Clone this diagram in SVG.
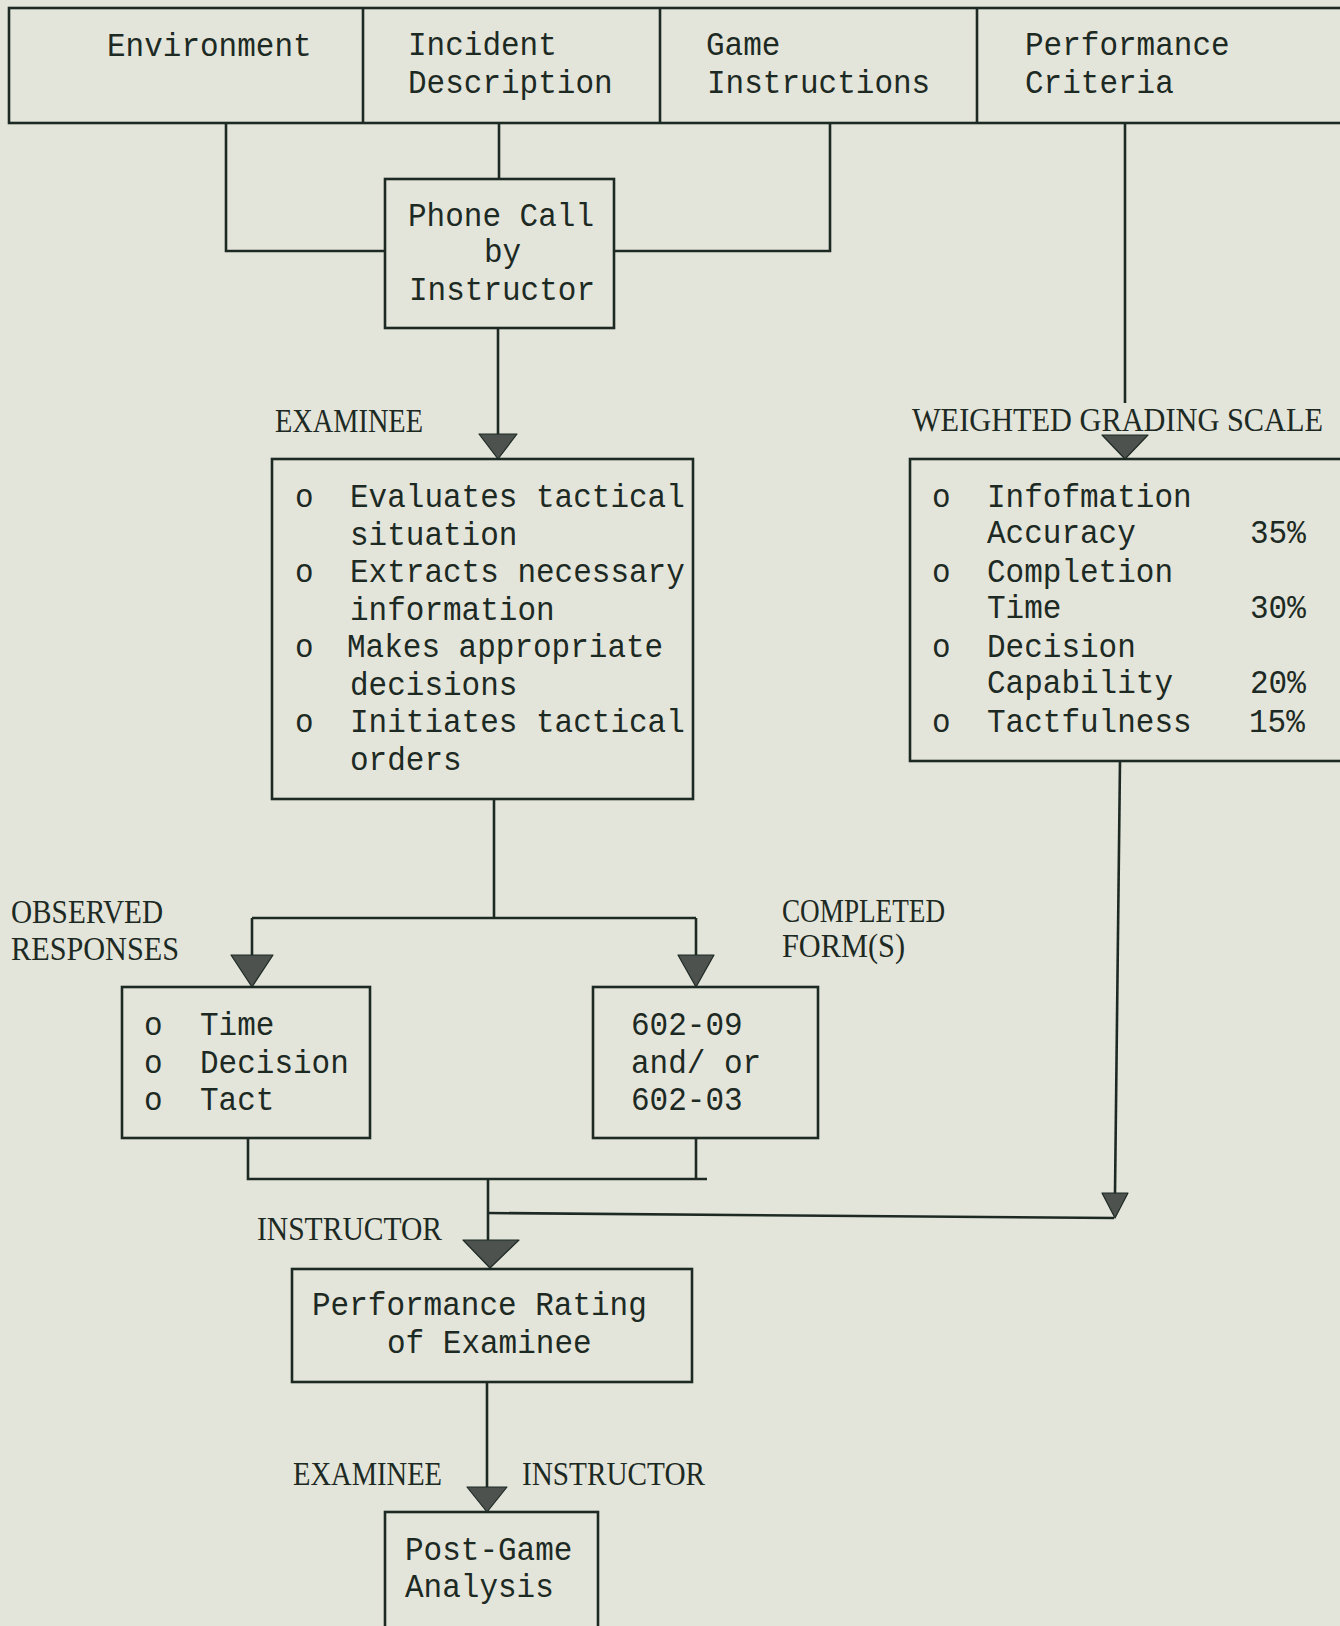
<svg xmlns="http://www.w3.org/2000/svg" width="1340" height="1626" viewBox="0 0 1340 1626">
<style>
.bg{fill:#e4e5da}
.box{fill:none;stroke:#1d2a24;stroke-width:2.6}
.ln{fill:none;stroke:#1d2a24;stroke-width:2.6}
.ar{fill:#4d524e;stroke:#1d2a24;stroke-width:1.2;stroke-linejoin:round}
.m{font-family:"Liberation Mono","Courier New",monospace;font-size:33px;fill:#1d2a24}
.l{font-family:"Liberation Serif","Times New Roman",serif;font-size:33px;fill:#1d2a24}
</style>
<rect class="bg" x="0" y="0" width="1340" height="1626"/>

<g id="top-boxes">
  <rect class="box" x="9" y="8" width="1345" height="115"/>
  <line class="ln" x1="363" y1="8" x2="363" y2="123"/>
  <line class="ln" x1="660" y1="8" x2="660" y2="123"/>
  <line class="ln" x1="977" y1="8" x2="977" y2="123"/>
</g>
<g id="environment">
  <text class="m" x="107" y="56" textLength="204.6" lengthAdjust="spacingAndGlyphs">Environment</text>
</g>
<g id="incident-description">
  <text class="m" x="408" y="55" textLength="148.8" lengthAdjust="spacingAndGlyphs">Incident</text>
  <text class="m" x="408" y="93" textLength="204.6" lengthAdjust="spacingAndGlyphs">Description</text>
</g>
<g id="game-instructions">
  <text class="m" x="706" y="55" textLength="74.4" lengthAdjust="spacingAndGlyphs">Game</text>
  <text class="m" x="707" y="93" textLength="223.2" lengthAdjust="spacingAndGlyphs">Instructions</text>
</g>
<g id="performance-criteria">
  <text class="m" x="1025" y="55" textLength="204.6" lengthAdjust="spacingAndGlyphs">Performance</text>
  <text class="m" x="1025" y="93" textLength="148.8" lengthAdjust="spacingAndGlyphs">Criteria</text>
</g>

<g id="phone-call">
  <rect class="box" x="385" y="179" width="229" height="149"/>
  <text class="m" x="408" y="226" textLength="186" lengthAdjust="spacingAndGlyphs">Phone Call</text>
  <text class="m" x="484" y="262" textLength="37.2" lengthAdjust="spacingAndGlyphs">by</text>
  <text class="m" x="409" y="300" textLength="186" lengthAdjust="spacingAndGlyphs">Instructor</text>
</g>

<g id="examinee">
  <text class="l" x="275" y="432" textLength="148" lengthAdjust="spacingAndGlyphs">EXAMINEE</text>
  <rect class="box" x="272" y="459" width="421" height="340"/>
  <text class="m" x="295" y="507" textLength="18.6" lengthAdjust="spacingAndGlyphs">o</text>
  <text class="m" x="350" y="507" textLength="334.8" lengthAdjust="spacingAndGlyphs">Evaluates tactical</text>
  <text class="m" x="350" y="545" textLength="167.4" lengthAdjust="spacingAndGlyphs">situation</text>
  <text class="m" x="295" y="582" textLength="18.6" lengthAdjust="spacingAndGlyphs">o</text>
  <text class="m" x="350" y="582" textLength="334.8" lengthAdjust="spacingAndGlyphs">Extracts necessary</text>
  <text class="m" x="350" y="620" textLength="204.6" lengthAdjust="spacingAndGlyphs">information</text>
  <text class="m" x="295" y="657" textLength="18.6" lengthAdjust="spacingAndGlyphs">o</text>
  <text class="m" x="347" y="657" textLength="316.2" lengthAdjust="spacingAndGlyphs">Makes appropriate</text>
  <text class="m" x="350" y="695" textLength="167.4" lengthAdjust="spacingAndGlyphs">decisions</text>
  <text class="m" x="295" y="732" textLength="18.6" lengthAdjust="spacingAndGlyphs">o</text>
  <text class="m" x="350" y="732" textLength="334.8" lengthAdjust="spacingAndGlyphs">Initiates tactical</text>
  <text class="m" x="350" y="770" textLength="111.6" lengthAdjust="spacingAndGlyphs">orders</text>
</g>

<g id="grading-scale">
  <text class="l" x="912" y="431" textLength="411" lengthAdjust="spacingAndGlyphs">WEIGHTED GRADING SCALE</text>
  <rect class="box" x="910" y="459" width="445" height="302"/>
  <text class="m" x="932" y="507" textLength="18.6" lengthAdjust="spacingAndGlyphs">o</text>
  <text class="m" x="987" y="507" textLength="204.6" lengthAdjust="spacingAndGlyphs">Infofmation</text>
  <text class="m" x="987" y="543" textLength="148.8" lengthAdjust="spacingAndGlyphs">Accuracy</text>
  <text class="m" x="1250" y="543" textLength="55.8" lengthAdjust="spacingAndGlyphs">35%</text>
  <text class="m" x="932" y="582" textLength="18.6" lengthAdjust="spacingAndGlyphs">o</text>
  <text class="m" x="987" y="582" textLength="186" lengthAdjust="spacingAndGlyphs">Completion</text>
  <text class="m" x="987" y="618" textLength="74.4" lengthAdjust="spacingAndGlyphs">Time</text>
  <text class="m" x="1250" y="618" textLength="55.8" lengthAdjust="spacingAndGlyphs">30%</text>
  <text class="m" x="932" y="657" textLength="18.6" lengthAdjust="spacingAndGlyphs">o</text>
  <text class="m" x="987" y="657" textLength="148.8" lengthAdjust="spacingAndGlyphs">Decision</text>
  <text class="m" x="987" y="693" textLength="186" lengthAdjust="spacingAndGlyphs">Capability</text>
  <text class="m" x="1250" y="693" textLength="55.8" lengthAdjust="spacingAndGlyphs">20%</text>
  <text class="m" x="932" y="732" textLength="18.6" lengthAdjust="spacingAndGlyphs">o</text>
  <text class="m" x="987" y="732" textLength="204.6" lengthAdjust="spacingAndGlyphs">Tactfulness</text>
  <text class="m" x="1249" y="732" textLength="55.8" lengthAdjust="spacingAndGlyphs">15%</text>
</g>

<g id="observed-responses">
  <text class="l" x="11" y="923" textLength="152" lengthAdjust="spacingAndGlyphs">OBSERVED</text>
  <text class="l" x="11" y="960" textLength="168" lengthAdjust="spacingAndGlyphs">RESPONSES</text>
  <rect class="box" x="122" y="987" width="248" height="151"/>
  <text class="m" x="144" y="1035" textLength="18.6" lengthAdjust="spacingAndGlyphs">o</text>
  <text class="m" x="200" y="1035" textLength="74.4" lengthAdjust="spacingAndGlyphs">Time</text>
  <text class="m" x="144" y="1073" textLength="18.6" lengthAdjust="spacingAndGlyphs">o</text>
  <text class="m" x="200" y="1073" textLength="148.8" lengthAdjust="spacingAndGlyphs">Decision</text>
  <text class="m" x="144" y="1110" textLength="18.6" lengthAdjust="spacingAndGlyphs">o</text>
  <text class="m" x="200" y="1110" textLength="74.4" lengthAdjust="spacingAndGlyphs">Tact</text>
</g>

<g id="completed-forms">
  <text class="l" x="782" y="922" textLength="163" lengthAdjust="spacingAndGlyphs">COMPLETED</text>
  <text class="l" x="782" y="957" textLength="123" lengthAdjust="spacingAndGlyphs">FORM(S)</text>
  <rect class="box" x="593" y="987" width="225" height="151"/>
  <text class="m" x="631" y="1035" textLength="111.6" lengthAdjust="spacingAndGlyphs">602-09</text>
  <text class="m" x="631" y="1073" textLength="130.2" lengthAdjust="spacingAndGlyphs">and/ or</text>
  <text class="m" x="631" y="1110" textLength="111.6" lengthAdjust="spacingAndGlyphs">602-03</text>
</g>

<g id="performance-rating">
  <text class="l" x="257" y="1240" textLength="185" lengthAdjust="spacingAndGlyphs">INSTRUCTOR</text>
  <rect class="box" x="292" y="1269" width="400" height="113"/>
  <text class="m" x="312" y="1315" textLength="334.8" lengthAdjust="spacingAndGlyphs">Performance Rating</text>
  <text class="m" x="387" y="1353" textLength="204.6" lengthAdjust="spacingAndGlyphs">of Examinee</text>
</g>

<g id="post-game-analysis">
  <text class="l" x="293" y="1485" textLength="149" lengthAdjust="spacingAndGlyphs">EXAMINEE</text>
  <text class="l" x="522" y="1485" textLength="183" lengthAdjust="spacingAndGlyphs">INSTRUCTOR</text>
  <rect class="box" x="385" y="1512" width="213" height="130"/>
  <text class="m" x="405" y="1560" textLength="167.4" lengthAdjust="spacingAndGlyphs">Post-Game</text>
  <text class="m" x="405" y="1597" textLength="148.8" lengthAdjust="spacingAndGlyphs">Analysis</text>
</g>

<g id="connectors">
  <path class="ln" d="M226 123 V251 H385"/>
  <path class="ln" d="M499 123 V179"/>
  <path class="ln" d="M830 123 V251 H614"/>
  <path class="ln" d="M498 328 V434"/>
  <polygon class="ar" points="479,434 517,434 498,459"/>
  <path class="ln" d="M1125 123 V403"/>
  <polygon class="ar" points="1102,435 1148,435 1125,459"/>
  <path class="ln" d="M494 799 V918"/>
  <path class="ln" d="M252 918 H696"/>
  <path class="ln" d="M252 918 V955"/>
  <polygon class="ar" points="231,955 273,955 252,987"/>
  <path class="ln" d="M696 918 V955"/>
  <polygon class="ar" points="678,955 714,955 696,987"/>
  <path class="ln" d="M248 1138 V1179 H707"/>
  <path class="ln" d="M696 1138 V1179"/>
  <path class="ln" d="M488 1179 V1240"/>
  <path class="ln" d="M488 1213 L1114 1218"/>
  <polygon class="ar" points="463,1240 519,1240 490,1268"/>
  <path class="ln" d="M1120 761 L1115 1193"/>
  <polygon class="ar" points="1102,1193 1128,1193 1115,1218"/>
  <path class="ln" d="M487 1382 V1487"/>
  <polygon class="ar" points="467,1487 507,1487 487,1512"/>
</g>
</svg>
